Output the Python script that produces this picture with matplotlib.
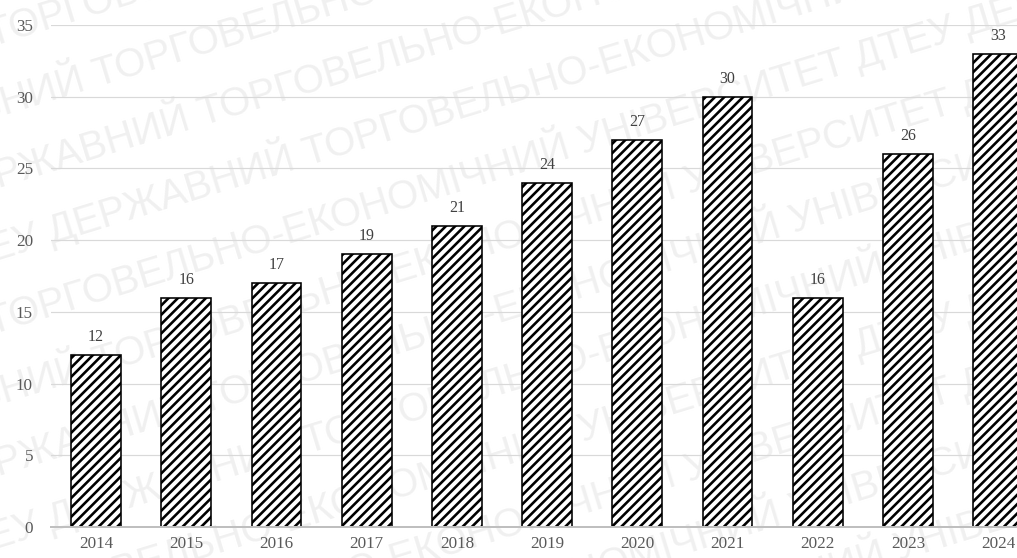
import math
import matplotlib
matplotlib.use("Agg")
import matplotlib.pyplot as plt

years = ['2014', '2015', '2016', '2017', '2018', '2019', '2020', '2021', '2022', '2023', '2024']
values = [12, 16, 17, 19, 21, 24, 27, 30, 16, 26, 33]
watermark = "ДТЕУ ДЕРЖАВНИЙ ТОРГОВЕЛЬНО-ЕКОНОМІЧНИЙ УНІВЕРСИТЕТ "

DPI = 140
W, H = 1017, 558
def pt(px):
    return px * 72.0 / DPI

plt.rcParams["font.family"] = ["Liberation Serif", "DejaVu Serif"]
plt.rcParams["hatch.linewidth"] = pt(2.6)
plt.rcParams["hatch.color"] = "black"

fig = plt.figure(figsize=(W / DPI, H / DPI), dpi=DPI)

# faint diagonal watermark behind everything
ang = 17
ca, sa = math.cos(math.radians(ang)), math.sin(math.radians(ang))
for i in range(-10, 10):
    shift = -60 - (i % 4) * 110          # slide along the text direction
    px0 = shift * ca
    py0 = 10 + i * 72 + shift * sa
    fig.text(px0 / W, py0 / H, watermark * 2,
             rotation=ang, rotation_mode="anchor", fontsize=pt(40),
             color="#f0f0f0", family="Liberation Sans", zorder=-5,
             ha="left", va="baseline")

ax = fig.add_axes([51 / W, 31 / H, 1 - 51 / W, 502 / H])
ax.set_zorder(2)
ax.patch.set_alpha(0)

x = range(len(years))
bars = ax.bar(x, values, width=0.55, color="white", edgecolor="black",
              linewidth=pt(1.6), hatch="/////", zorder=3)

for xi, v in zip(x, values):
    ax.annotate(str(v), (xi, v), xytext=(0, pt(10)), textcoords="offset points",
                ha="center", va="bottom", fontsize=pt(16), color="#404040")

ax.set_xlim(-0.5, -0.5 + (W - 51) / 90.2)
ax.set_ylim(0, 35)
ax.set_yticks(range(0, 36, 5))
ax.set_xticks(list(x))
ax.set_xticklabels(years)
ax.tick_params(axis="both", length=0, labelsize=pt(17), labelcolor="#595959")
ax.tick_params(axis="y", pad=pt(18))
ax.tick_params(axis="x", pad=pt(9))
ax.grid(axis="y", color="#d9d9d9", linewidth=pt(1.2), zorder=0)
ax.set_axisbelow(True)
for s in ["top", "right", "left"]:
    ax.spines[s].set_visible(False)
ax.spines["bottom"].set_color("#bfbfbf")
ax.spines["bottom"].set_linewidth(pt(2))
ax.spines["bottom"].set_zorder(4)

fig.savefig("out.png", dpi=DPI)
